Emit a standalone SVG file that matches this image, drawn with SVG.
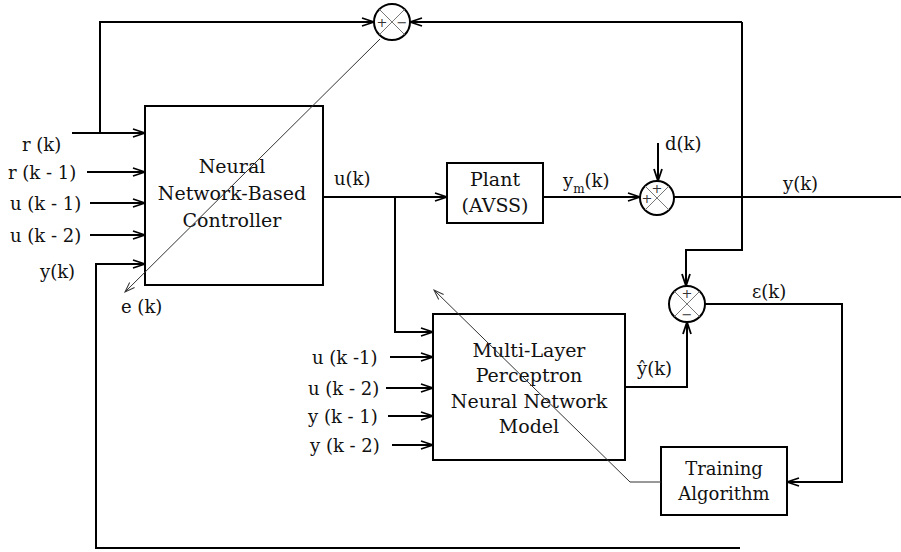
<svg xmlns="http://www.w3.org/2000/svg" width="901" height="552" viewBox="0 0 901 552">
<style>
text{font-family:"DejaVu Serif","Liberation Serif",serif;fill:#111}
.lbl{font-size:18px}
.box{fill:#fff;stroke:#000;stroke-width:2}
.bt{font-size:19px;text-anchor:middle}
.w{fill:none;stroke:#000;stroke-width:2}
.thin{fill:none;stroke:#333;stroke-width:1}
.sum{fill:#fff;stroke:#000;stroke-width:2}
.x{stroke:#777;stroke-width:1}
.sg{font-size:13px;text-anchor:middle;fill:#333}
</style>
<defs>
<marker id="ah" markerWidth="14" markerHeight="10" refX="13" refY="5" orient="auto" markerUnits="userSpaceOnUse">
<path d="M1,1 L13,5 L1,9" fill="none" stroke="#000" stroke-width="1.8"/>
</marker>
<marker id="at" markerWidth="12" markerHeight="10" refX="11" refY="5" orient="auto" markerUnits="userSpaceOnUse">
<path d="M1,1.5 L11,5 L1,8.5" fill="none" stroke="#333" stroke-width="1"/>
</marker>
</defs>

<g id="controller">
<rect class="box" x="145" y="106" width="178" height="179"/>
<text class="bt" x="232" y="173">Neural</text>
<text class="bt" x="232" y="200">Network-Based</text>
<text class="bt" x="232" y="227">Controller</text>
</g>

<g id="plant">
<rect class="box" x="447" y="163" width="96" height="60"/>
<text class="bt" x="495" y="186">Plant</text>
<text class="bt" x="495" y="212">(AVSS)</text>
</g>

<g id="mlp">
<rect class="box" x="433" y="314" width="192" height="146"/>
<text class="bt" x="529" y="357">Multi-Layer</text>
<text class="bt" x="529" y="382">Perceptron</text>
<text class="bt" x="529" y="408">Neural Network</text>
<text class="bt" x="529" y="433">Model</text>
</g>

<g id="training">
<rect class="box" x="661" y="447" width="126" height="68"/>
<text class="bt" x="724" y="475" style="font-size:18px">Training</text>
<text class="bt" x="724" y="500" style="font-size:18px">Algorithm</text>
</g>

<g id="sum-top">
<circle class="sum" cx="392" cy="22" r="18"/>
<line class="x" x1="379.3" y1="9.3" x2="404.7" y2="34.7"/>
<line class="x" x1="404.7" y1="9.3" x2="379.3" y2="34.7"/>
<text class="sg" x="382" y="27">+</text>
<text class="sg" x="402" y="27">−</text>
</g>

<g id="sum-d">
<circle class="sum" cx="657" cy="198" r="17"/>
<line class="x" x1="645" y1="186" x2="669" y2="210"/>
<line class="x" x1="669" y1="186" x2="645" y2="210"/>
<text class="sg" x="657" y="193">+</text>
<text class="sg" x="647" y="203">+</text>
</g>

<g id="sum-e">
<circle class="sum" cx="687" cy="304" r="18"/>
<line class="x" x1="674.3" y1="291.3" x2="699.7" y2="316.7"/>
<line class="x" x1="699.7" y1="291.3" x2="674.3" y2="316.7"/>
<text class="sg" x="687" y="298">+</text>
<text class="sg" x="687" y="319">−</text>
</g>

<g id="connectors">
<polyline class="w" points="72,133 145,133" marker-end="url(#ah)"/>
<polyline class="w" points="100,133 100,22 374,22" marker-end="url(#ah)"/>
<polyline class="w" points="742,22 410,22" marker-end="url(#ah)"/>
<polyline class="w" points="87,172 145,172" marker-end="url(#ah)"/>
<polyline class="w" points="90,203 145,203" marker-end="url(#ah)"/>
<polyline class="w" points="90,235 145,235" marker-end="url(#ah)"/>
<polyline class="w" points="740,548 96,548 96,264 145,264" marker-end="url(#ah)"/>
<polyline class="w" points="323,197 447,197" marker-end="url(#ah)"/>
<polyline class="w" points="395,197 395,332 433,332" marker-end="url(#ah)"/>
<polyline class="w" points="543,197 640,197" marker-end="url(#ah)"/>
<polyline class="w" points="658,143 658,181" marker-end="url(#ah)"/>
<polyline class="w" points="674,197 901,197"/>
<polyline class="w" points="742,22 742,250 686,250 686,286" marker-end="url(#ah)"/>
<polyline class="w" points="625,387 687,387 687,322" marker-end="url(#ah)"/>
<polyline class="w" points="705,304 842,304 842,482 787,482" marker-end="url(#ah)"/>
<polyline class="w" points="390,357 433,357" marker-end="url(#ah)"/>
<polyline class="w" points="386,388 433,388" marker-end="url(#ah)"/>
<polyline class="w" points="388,416 433,416" marker-end="url(#ah)"/>
<polyline class="w" points="392,445 433,445" marker-end="url(#ah)"/>
<polyline class="thin" points="380,39 125,292" marker-end="url(#at)"/>
<polyline class="thin" points="661,482 630,482 434,290" marker-end="url(#at)"/>
</g>

<g id="labels">
<text class="lbl" x="22" y="151">r (k)</text>
<text class="lbl" x="8" y="179">r (k - 1)</text>
<text class="lbl" x="10" y="210">u (k - 1)</text>
<text class="lbl" x="10" y="242">u (k - 2)</text>
<text class="lbl" x="40" y="278">y(k)</text>
<text class="lbl" x="121" y="313">e (k)</text>
<text class="lbl" x="334" y="185">u(k)</text>
<text class="lbl" x="563" y="187">y<tspan font-size="12" dy="6">m</tspan><tspan dy="-6">(k)</tspan></text>
<text class="lbl" x="665" y="150">d(k)</text>
<text class="lbl" x="783" y="190">y(k)</text>
<text class="lbl" x="752" y="298">ε(k)</text>
<text class="lbl" x="637" y="375">ŷ(k)</text>
<text class="lbl" x="312" y="364">u (k -1)</text>
<text class="lbl" x="308" y="395">u (k - 2)</text>
<text class="lbl" x="308" y="423">y (k - 1)</text>
<text class="lbl" x="310" y="452">y (k - 2)</text>
</g>
</svg>
